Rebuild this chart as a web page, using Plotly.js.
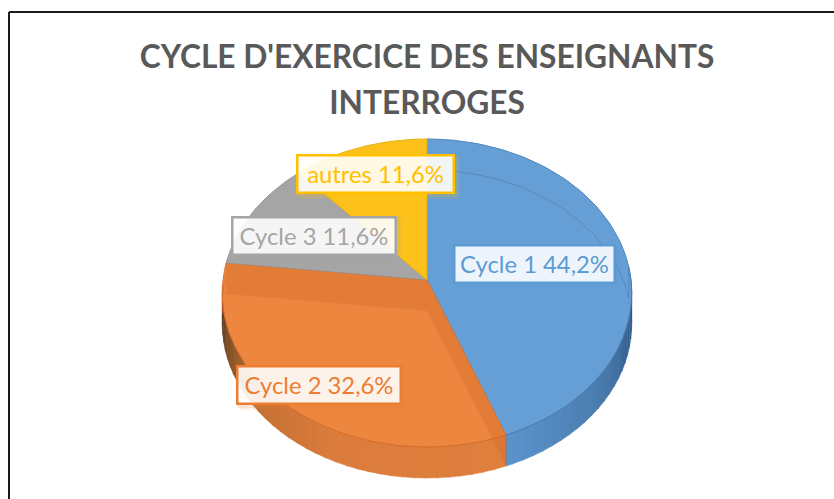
<!DOCTYPE html>
<html><head><meta charset="utf-8">
<script src="https://cdn.plot.ly/plotly-3.0.1.min.js"></script>
<style>html,body{margin:0;padding:0;background:#fff;overflow:hidden}</style>
</head><body><div id="chart" style="width:834px;height:499px"></div>
<script>
var titleText = "CYCLE D'EXERCICE DES ENSEIGNANTS<br>INTERROGES";
var categories = ["Cycle 1", "Cycle 2", "Cycle 3", "autres"];
var shares = [44.2, 32.6, 11.6, 11.6];
var shareLabels = ["44,2%", "32,6%", "11,6%", "11,6%"];
var faceColors = ["#659fd6", "#ed8740", "#a5a5a5", "#fcc21b"];
var edgeColors = ["#4f86bd", "#d9742f", "#979797", "#e8b014"];
var labelColors = ["#5b9bd5", "#ed7d31", "#a5a5a5", "#ffc000"];
var labelCentres = [[534.5, 264], [319, 385], [314, 235.5], [375.5, 174]];
var labelWidths = [163, 166, 166, 159];
var labelHeight = 40;

// projected-disc geometry (pixel space of the hidden axes)
var CX = 427, RX = 204, A = 129.3, B = 280, C = -0.0844, DEPTH = 31;
function rim(deg, shift) {
  var t = deg * Math.PI / 180, u = Math.sin(t), v = -Math.cos(t), d = 1 + C * v;
  return [CX + RX * u / d, (A * v + B) / d + (shift || 0)];
}
function arc(a0, a1, shift) {
  var pts = [], n = Math.max(2, Math.ceil(Math.abs(a1 - a0) / 1.5));
  for (var i = 0; i <= n; i++) pts.push(rim(a0 + (a1 - a0) * i / n, shift));
  return pts;
}
function poly(pts, fill, line, w, name) {
  return {type: "scatter", mode: "lines", x: pts.map(function (p) { return p[0]; }),
    y: pts.map(function (p) { return p[1]; }), fill: fill ? "toself" : "none",
    fillcolor: fill || undefined, line: {color: line, width: w}, hoverinfo: "skip", showlegend: false, name: name || ""};
}
function lerpColor(stops, f) {
  for (var i = 0; i < stops.length - 1; i++) {
    if (f <= stops[i + 1][0]) {
      var g = (f - stops[i][0]) / (stops[i + 1][0] - stops[i][0]);
      var a = stops[i][1], b = stops[i + 1][1];
      return "rgb(" + [0, 1, 2].map(function (k) { return Math.round(a[k] + (b[k] - a[k]) * g); }).join(",") + ")";
    }
  }
  return "rgb(" + stops[stops.length - 1][1].join(",") + ")";
}

var total = shares.reduce(function (a, b) { return a + b; }, 0);
var bounds = [0];
shares.forEach(function (s) { bounds.push(bounds[bounds.length - 1] + s / total * 360); });
var traces = [];

// side wall
var wallStops = [
  [[0, [38, 70, 108]], [0.18, [52, 94, 140]], [0.5, [72, 122, 172]], [1, [92, 148, 204]]],
  [[0, [222, 127, 62]], [0.4, [220, 124, 60]], [0.65, [196, 112, 52]], [0.82, [130, 80, 38]], [1, [62, 42, 26]]]
];
var wallEnds = [[88, bounds[1]], [bounds[1], 268]];
[0, 1].forEach(function (s) {
  var a0 = wallEnds[s][0], a1 = wallEnds[s][1], step = 3;
  for (var a = a0; a < a1; a += step) {
    var e = Math.min(a + step + 0.4, a1);
    var top = arc(a, e, 0), bot = arc(e, a, DEPTH);
    var f = (a - a0) / (a1 - a0);
    var col = lerpColor(wallStops[s], f);
    traces.push(poly(top.concat(bot), col, col, 0.5));
  }
});

// top faces
shares.forEach(function (s, i) {
  var pts = [[CX, B]].concat(arc(bounds[i], bounds[i + 1], 0));
  pts.push([CX, B]);
  traces.push(poly(pts, faceColors[i], edgeColors[i], 1, categories[i]));
});

// cut faces seen through the translucent orange slice
var pA = rim(bounds[2], 0), pB = rim(bounds[1], 0);
traces.push(poly([pA, [CX, B], pB, [pB[0], pB[1] + DEPTH - 1], [CX, B + DEPTH], [pA[0], pA[1] + DEPTH], pA],
  "rgba(214,110,44,0.45)", "rgba(214,110,44,0)", 0));
// lower rim seen through the slices
traces.push(poly(arc(0, 85, DEPTH).concat(arc(85, bounds[1], 0)), null, "rgba(60,100,150,0.35)", 1));
traces.push(poly(arc(bounds[1], 262, 0).concat(arc(262, bounds[2], 12)), null, "rgba(205,100,35,0.5)", 1));
// wall front seam on the orange/blue boundary
traces.push(poly([pB, [pB[0], pB[1] + DEPTH]], null, "rgba(190,100,40,0.7)", 1));

var annotations = categories.map(function (c, i) {
  return {x: labelCentres[i][0], y: labelCentres[i][1], xref: "x", yref: "y", showarrow: false,
    text: c + " " + shareLabels[i], font: {family: "Lato, Carlito, sans-serif", size: 23.8, color: labelColors[i]},
    bgcolor: "rgba(255,255,255,0.89)", bordercolor: labelColors[i], borderwidth: 2.5, borderpad: 0,
    width: labelWidths[i] - 5, height: labelHeight - 5, align: "center", valign: "middle"};
});

var shapes = [
  {type: "line", xref: "x", yref: "y", x0: 9, y0: 12, x1: 834, y1: 12, line: {color: "#1a1a1a", width: 2}},
  {type: "line", xref: "x", yref: "y", x0: 9, y0: 12, x1: 9, y1: 499, line: {color: "#1a1a1a", width: 2}}
];
labelCentres.forEach(function (c, i) {
  [[4, 0.10], [2, 0.14]].forEach(function (o) {
    shapes.push({type: "rect", xref: "x", yref: "y", layer: "above",
      x0: c[0] - labelWidths[i] / 2 + o[0] - 1, x1: c[0] + labelWidths[i] / 2 + o[0] + 1,
      y0: c[1] - labelHeight / 2 + o[0] - 1, y1: c[1] + labelHeight / 2 + o[0] + 1,
      fillcolor: labelColors[i], opacity: o[1], line: {width: 0}});
  });
});

Plotly.newPlot("chart", traces, {
  width: 834, height: 499, margin: {l: 0, r: 0, t: 0, b: 0},
  paper_bgcolor: "#fff", plot_bgcolor: "#fff", showlegend: false,
  title: {text: titleText, x: 0.512, xanchor: "center", y: 0.864, yanchor: "top", xref: "paper", yref: "paper",
    font: {family: "Lato, Carlito, sans-serif", size: 31.7, color: "#595959", weight: 700}},
  xaxis: {range: [0, 834], visible: false, fixedrange: true},
  yaxis: {range: [499, 0], visible: false, fixedrange: true},
  annotations: annotations, shapes: shapes
}, {displayModeBar: false, staticPlot: true}).then(function (gd) {
  var lines = gd.querySelectorAll(".gtitle .line");
  if (lines.length > 1) {
    var y = parseFloat(lines[1].getAttribute("y"));
    if (!isNaN(y)) lines[1].setAttribute("y", y + 5);
  }
});
</script></body></html>
